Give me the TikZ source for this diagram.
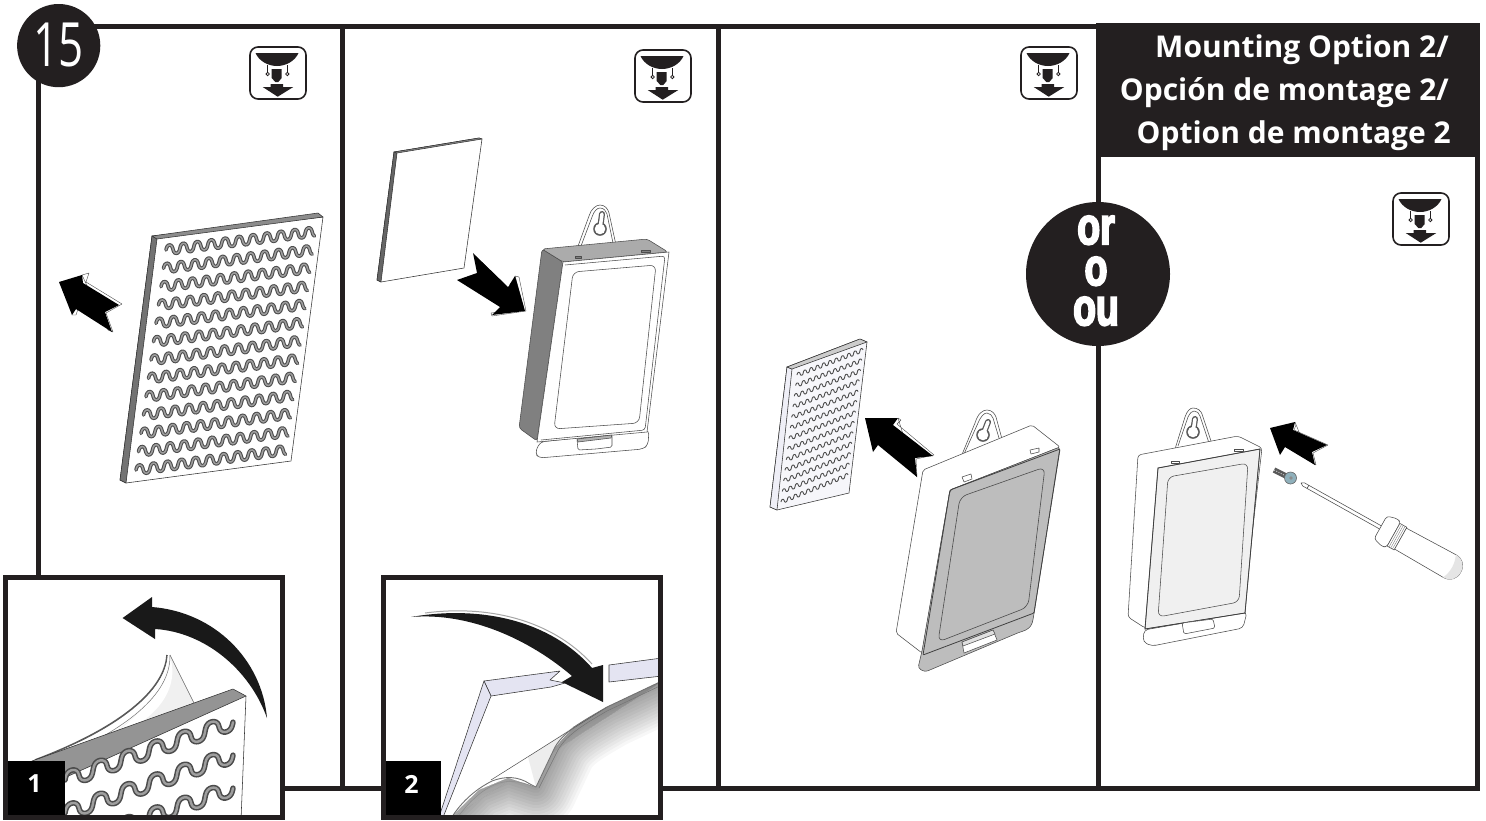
\documentclass[tikz,border=0pt]{standalone}
\usepackage{fontspec}
\setmainfont{Open Sans}
\newfontfamily\headfont{Open Sans}
\newfontfamily\fatfont[FakeBold=4.5]{Liberation Sans Bold}
\definecolor{ink}{HTML}{231F20}
\definecolor{lav}{HTML}{E4E4F2}
\definecolor{shade}{HTML}{5858A8}
\definecolor{screwblue}{HTML}{8FB0BB}
\tikzset{
  frameline/.style={draw=ink,line width=5pt},
  thin line/.style={draw=black!80,line width=0.55pt,line join=round},
  devline/.style={draw=black!70,line width=0.55pt,line join=round},
  arrowblack/.style={fill=black,draw=none},
  arrowwhite/.style={fill=white,draw=black!70,line width=0.4pt,line join=round},
  waveunder/.style={draw=black!70,line width=3.6pt,line cap=round},
  waveover/.style={draw=black!38,line width=1.5pt,line cap=round},
  title/.style={text=white,font=\headfont\bfseries\fontsize{30}{30}\selectfont,inner sep=0pt,anchor=base east},
  numlabel/.style={text=white,font=\headfont\bfseries\fontsize{25}{25}\selectfont,inner sep=0pt},
  ortext/.style={text=white,inner sep=0pt,anchor=base,font=\fatfont\fontsize{52}{52}\selectfont},
}
% rows of waves between two end lines
\newcommand{\wavegrid}[9]{%
  \foreach \r in {0,...,#9}{%
    \pgfmathsetmacro\u{\r/#9}%
    \pgfmathsetmacro\sx{#1+(#5-#1)*\u}\pgfmathsetmacro\sy{#2+(#6-#2)*\u}%
    \pgfmathsetmacro\ex{#3+(#7-#3)*\u}\pgfmathsetmacro\ey{#4+(#8-#4)*\u}%
    \pgfmathsetmacro\cc{\wround*(\ex-\sx)/\wper}%
    \draw[waveunder] plot[variable=\t,domain=0:1,samples=160] ({\sx+(\ex-\sx)*\t-\cc*sin(720*\wper*\t)},{\sy+(\ey-\sy)*\t-\wamp*sin(360*\wper*\t)});
    \draw[waveover] plot[variable=\t,domain=0:1,samples=160] ({\sx+(\ex-\sx)*\t-\cc*sin(720*\wper*\t)},{\sy+(\ey-\sy)*\t-\wamp*sin(360*\wper*\t)});
  }%
}
\def\wround{0.04}
\newcommand{\ceilingicon}[2]{%
  \begin{scope}[shift={(#1,#2)}]
    \draw[draw=ink,fill=white,line width=1.6pt,rounded corners=8pt] (0,0) rectangle (56,52);
    \fill[ink] (5.5,6) -- (48.5,6) .. controls (45,14) and (36,19) .. (27,19) .. controls (18,19) and (9,14) .. (5.5,6) -- cycle;
    \draw[ink,line width=1.1pt] (17.7,18) -- (17.7,25.4) (37.3,18) -- (37.3,25.4);
    \draw[ink,line width=0.8pt,fill=white] (17.7,27) circle (1.7) (37.3,27) circle (1.7);
    \fill[ink] (21.7,22) -- (31.7,22) -- (31.7,31) -- (28.3,35) -- (25.3,35) -- (21.7,31) -- cycle;
    \fill[ink] (20.7,37) -- (33,37) -- (33,40) -- (43.3,40) -- (27.7,49.7) -- (12.7,40) -- (20.7,40) -- cycle;
  \end{scope}%
}
\newcommand{\keyhole}[4]{%
  \draw[black!65,line width=6pt,line cap=round] (#1,#2) -- (#3,#4);
  \fill[black!65] (#1,#2) circle (6.8);
  \draw[white,line width=3.5pt,line cap=round] (#1,#2) -- (#3,#4);
  \fill[white] (#1,#2) circle (5.3);
}
\begin{document}
\begin{tikzpicture}[x=1pt,y=-1pt]
\useasboundingbox (0,0) rectangle (1486,820);
\fill[white] (0,0) rectangle (1486,820);

% ---------- frame ----------
\draw[frameline] (38.5,26) -- (1098,26);
\draw[frameline] (38.5,26) -- (38.5,580);
\draw[frameline] (342,26) -- (342,790.5);
\draw[frameline] (718,26) -- (718,790.5);
\draw[frameline] (1098,26) -- (1098,790.5);
\draw[frameline] (1477.5,26) -- (1477.5,791);
\draw[frameline] (280,788.5) -- (1480,788.5);
\fill[ink] (1096,23) rectangle (1480,157);

% ---------- icons ----------
\ceilingicon{250}{47}
\ceilingicon{635}{50}
\ceilingicon{1021}{47}
\ceilingicon{1393}{193}

% ---------- panel 1 sheet ----------
\draw[thin line,fill=white] (152,236) -- (323,217) -- (291,461) -- (126,483) -- (120,480) -- cycle;
\draw[thin line,fill=black!55] (152,236) -- (157,239) -- (126,483) -- (120,480) -- cycle;
\draw[thin line,fill=black!45] (152,236) -- (318,213) -- (323,217) -- (157,239) -- cycle;
\def\wamp{4.6}\def\wper{10.7}
\wavegrid{166}{250}{315}{231.7}{136}{470}{286}{450}{12}

% ---------- panel 1 arrow ----------
\draw[arrowwhite] (82,275) -- (89,273) -- (86,282) -- (122,304) -- (106,313) -- (113,332) -- (108,330) -- cycle;
\draw[arrowwhite] (72,315) -- (76,315) -- (78,309) -- (72,309) -- cycle;
\fill[arrowblack] (59,282) -- (82,275) -- (83,283) -- (119,305) -- (105,312) -- (112,332) -- (76,309) -- (72,315) -- cycle;

% ---------- panel 2 plate ----------
\draw[thin line,fill=white] (394,152) -- (479,138) -- (482,139) -- (464,268) -- (381,282) -- (377,280) -- cycle;
\draw[thin line,fill=black!60] (394,152) -- (397,153) -- (381,282) -- (377,280) -- cycle;
\draw[thin line,fill=black!45] (394,152) -- (479,138) -- (482,139) -- (397,153) -- cycle;

% ---------- panel 2 arrow ----------
\draw[arrowwhite] (515,276) -- (519,277) -- (526,311) -- (492,316) -- (491,313) -- (524,309) -- cycle;
\fill[arrowblack] (473,253) -- (508,287) -- (515,276) -- (525,311) -- (492,315) -- (500,307) -- (457,280) -- (477,273) -- cycle;
\draw[white,line width=1pt] (473,252) -- (509,286);

% ---------- panel 2 device ----------
\draw[devline,fill=white] (577,249) -- (589,216) .. controls (591,209) and (596,205) .. (600,205) .. controls (605,205) and (608,209) .. (609,213) -- (616,245) -- cycle;
\draw[devline] (581,246) -- (592,217) .. controls (594,211) and (597,208) .. (600,208) .. controls (604,208) and (606,211) .. (607,214) -- (613,243);
\keyhole{600}{229}{602}{214}
\draw[devline,fill=black!50,rounded corners=3pt] (542,249) -- (519,428) -- (537,441) -- (563,262) -- cycle;
\draw[devline,fill=black!33,rounded corners=3pt] (542,249) -- (647,239) -- (668,252) -- (563,262) -- cycle;
\draw[devline,fill=black!50] (575,256) rectangle (581,258);
\draw[devline,fill=black!50] (641,250) rectangle (650,252);
\draw[devline,fill=white,rounded corners=4pt] (540,442) -- (535,453) -- (539,458) -- (643,449) -- (648,445) -- (649,430) -- cycle;
\draw[devline,fill=white] (563,262) -- (669,252) -- (647,432) -- (537,442) -- cycle;
\draw[devline,rounded corners=3pt] (565,265) -- (665,256) -- (645,430) -- (541,440);
\draw[devline,rounded corners=6pt] (573,272) -- (656,265) -- (639,423) -- (554,429) -- cycle;
\draw[devline,fill=white,rounded corners=1.5pt] (577,439) -- (612,435) -- (612,447) -- (596,449) -- (578,450) -- cycle;
\draw[devline,fill=black!30] (577,439) -- (612,435) -- (611,438) -- (578,442) -- cycle;

% ---------- panel 3 sheet ----------
\draw[thin line,fill=lav!35] (787,367) -- (860,339) -- (867,342) -- (849,493) -- (777,510) -- (770,507) -- cycle;
\draw[thin line,fill=lav!60] (787,367) -- (792,369) -- (777,510) -- (770,507) -- cycle;
\draw[thin line,fill=black!20] (787,367) -- (860,339) -- (867,342) -- (792,369) -- cycle;
\begin{scope}[waveunder/.style={draw=black!70,line width=0.9pt},waveover/.style={draw=none}]
\def\wamp{2.0}\def\wper{10.5}
\wavegrid{797}{375}{863}{350}{781}{502}{848}{475}{12}
\end{scope}

% ---------- panel 3 arrow ----------
\draw[arrowwhite] (898,418) -- (901,420) -- (897,424) -- (934,455) -- (916,459) -- (917,477) -- (914,470) -- cycle;
\fill[arrowblack] (865,418) -- (898,418) -- (893,425) -- (933,456) -- (915,458) -- (917,477) -- (878,445) -- (873,452) -- cycle;

% ---------- panel 3 device ----------
\draw[devline,fill=white] (961,457) -- (975,423) .. controls (978,413) and (983,410) .. (987,410) .. controls (992,410) and (995,414) .. (996,417) -- (1002,439) -- cycle;
\draw[devline] (964,454) -- (978,423) .. controls (981,416) and (984,413) .. (987,413) .. controls (990,413) and (992,416) .. (993,418) -- (999,438);
\keyhole{983}{435}{988}{422}
\draw[devline,fill=white,rounded corners=2pt] (923,470) -- (1032,425) -- (1060,447) -- (950,490) -- (922,653) -- (896,633) -- cycle;
\draw[devline,fill=black!26,rounded corners=3pt] (950,490) -- (1060,447) -- (1033,620) .. controls (1031,627) and (1027,630) .. (1020,632) -- (925,672) -- (918,668) -- (922,651) -- cycle;
\draw[line width=0.8pt,black!75,rounded corners=1pt] (950,490) -- (1060,449) -- (1034,613) -- (923,655) -- cycle;
\draw[line width=0.6pt,black!70,rounded corners=7pt] (960,497) -- (1045,467) -- (1028,607) -- (938,642) -- cycle;
\draw[devline,fill=white] (962,477) -- (971,474) -- (972,479) -- (964,482) -- cycle;
\draw[devline,fill=white] (1030,450) -- (1039,448) -- (1039,452) -- (1031,454) -- cycle;
\draw[devline,fill=white] (962,642) -- (993,630) -- (997,640) -- (964,653) -- cycle;
\draw[devline,fill=black!12] (962,642) -- (993,630) -- (995,634) -- (963,646) -- cycle;

% ---------- panel 4 device ----------
\draw[devline,fill=white] (1175,449) -- (1185,417) .. controls (1187,411) and (1190,408) .. (1193,408) .. controls (1198,408) and (1201,411) .. (1202,414) -- (1212,444) -- cycle;
\draw[devline] (1178,446) -- (1188,417) .. controls (1190,413) and (1192,411) .. (1194,411) .. controls (1197,411) and (1199,413) .. (1200,416) -- (1209,443);
\keyhole{1193}{432}{1195}{419}
\draw[devline,fill=white,rounded corners=3pt] (1138,455) -- (1238,436) -- (1262,448) -- (1243,613) -- (1145,628) -- (1128,617) -- cycle;
\draw[devline,fill=white,rounded corners=4pt] (1144,630) -- (1143,642) -- (1152,646) -- (1243,628) -- (1247,612) -- cycle;
\draw[devline,fill=black!6] (1158,468) -- (1260,449) -- (1245,613) -- (1145,629) -- cycle;
\draw[line width=0.8pt,black!75] (1158,468) -- (1260,449) -- (1245,613) -- (1145,629) -- cycle;
\draw[devline,rounded corners=6pt] (1168,477) -- (1248,463) -- (1239,602) -- (1158,617) -- cycle;
\draw[devline,fill=white] (1171,461) rectangle (1179,463);
\draw[devline,fill=white] (1234,449) rectangle (1243,451);
\draw[devline,fill=white,rounded corners=1.5pt] (1182,623) -- (1213,619) -- (1215,628) -- (1184,634) -- cycle;

% ---------- panel 4 arrow ----------
\draw[arrowwhite] (1295,422) -- (1296,425) -- (1294,430) -- (1328,445) -- (1313,453) -- (1316,465) -- (1311,462) -- cycle;
\fill[arrowblack] (1270,428) -- (1295,422) -- (1293,430) -- (1327,445) -- (1312,452) -- (1315,465) -- (1285,447) -- (1280,455) -- cycle;

% ---------- screw ----------
\draw[line width=5.5pt,black!65] (1274,470) -- (1288,477);
\draw[line width=1pt,black!25,dash pattern=on 1pt off 1.5pt] (1274,470) -- (1288,477);
\draw[draw=black!60,fill=screwblue,line width=0.6pt] (1290.5,478) circle (6);
\fill[black!45] (1291,478) circle (1.8);

% ---------- screwdriver ----------
\begin{scope}[shift={(1301,483)},x={(0.873pt,-0.488pt)},y={(0.488pt,0.873pt)}]
  \draw[devline,fill=white] (0,0) -- (3,-1.8) -- (8,-1.8) -- (8,1.8) -- (3,1.8) -- cycle;
  \draw[devline,fill=white] (8,-1.8) -- (92,-1.8) -- (92,1.8) -- (8,1.8) -- cycle;
  \draw[devline,fill=white,rounded corners=3pt] (91,-13) -- (102,-16) -- (106,-14) -- (106,14) -- (102,16) -- (91,13) -- cycle;
  \draw[devline,fill=white] (106,-13) -- (114,-13) -- (114,13) -- (106,13) -- cycle;
  \draw[line width=0.3pt,black!60] (108,-13) -- (108,13) (110,-13) -- (110,13) (112,-13) -- (112,13);
  \draw[devline,fill=white] (114,-12) -- (170,-13) .. controls (178,-13) and (183,-8) .. (183,0) .. controls (183,8) and (178,13) .. (170,13) -- (114,12) -- cycle;
  \fill[black!10] (170,-13) .. controls (178,-13) and (183,-8) .. (183,0) .. controls (183,8) and (178,13) .. (170,13) .. controls (174,5) and (174,-5) .. (170,-13) -- cycle;
\end{scope}

% ---------- step circle ----------
\fill[ink] (58.7,45.6) circle (41.6);
\node[text=white,inner sep=0pt,font=\headfont\fontsize{61}{61}\selectfont] (stepnum) at (58.5,45.5) {\scalebox{.72}[1]{15}};

% ---------- header ----------
\node[title] (hone) at (1449,57) {Mounting Option 2/};
\node[title] (htwo) at (1449,100) {Opción de montage 2/};
\node[title] (hthree) at (1451,143) {Option de montage 2};

% ---------- or circle ----------
\fill[ink] (1098,274) circle (72);
\node[ortext] (ora) at (1096,244) {\scalebox{.72}[1]{or}};
\node[ortext] (orb) at (1096,285) {\scalebox{.72}[1]{o}};
\node[ortext] (orc) at (1096,325) {\scalebox{.72}[1]{ou}};

% ---------- inset 1 ----------
\fill[white] (5.5,577.5) rectangle (282,817.5);
\begin{scope}
  \clip (5.5,577.5) rectangle (282,817.5);
  \fill[white] (32,761) -- (233,689) -- (246,696) -- (241,820) -- (5,820) -- cycle;
  % peeling liner
  \fill[black!6] (170,655) -- (194,703) -- (60,762) .. controls (120,735) and (165,700) .. (170,655) -- cycle;
  \fill[white] (170,655) .. controls (168,690) and (125,735) .. (70,760) -- (120,735) .. controls (160,715) and (175,690) .. (172,665) -- cycle;
  \draw[black!60,line width=0.5pt] (170,655) -- (194,703);
  \draw[black!65,line width=1.6pt,rounded corners=1pt] (167,655) .. controls (165,690) and (120,728) .. (35,760);
  \draw[white,line width=0.5pt] (168,656) .. controls (166,690) and (122,729) .. (45,757);
  \draw[black!55,line width=0.5pt] (170,655) .. controls (171,695) and (125,730) .. (55,760);
  \draw[thin line,fill=black!42] (32,761) -- (233,689) -- (246,696) -- (64,778) -- (20,790) -- cycle;
  \draw[thin line] (246,696) -- (241,820);
  \begin{scope}[waveunder/.style={draw=black!70,line width=5.5pt,line cap=round},waveover/.style={draw=black!38,line width=2.4pt,line cap=round}]
    \def\wamp{7.5}\def\wper{6}\def\wround{0.05}
    \wavegrid{65}{780}{233}{722}{65}{846}{233}{788}{2}
  \end{scope}
  % curved arrow
  \fill[black!90] (122.6,618) -- (152,597) -- (152,607) .. controls (215,612) and (262,660) .. (267,718) .. controls (250,670) and (205,632) .. (155,629) -- (155,639) -- cycle;
  \fill[black] (6,761) rectangle (65,816);
\end{scope}
\node[numlabel] (numone) at (34.5,784) {1};
\draw[frameline] (5.5,577.5) rectangle (282,817.5);

% ---------- inset 2 ----------
\fill[white] (383,577.5) rectangle (660,817.5);
\begin{scope}
  \clip (383,577.5) rectangle (660,817.5);
  % strips
  \draw[thin line,fill=lav] (484,681) -- (560,671) -- (550,680) -- (565,683) -- (551,687) -- (491,696) -- cycle;
  \draw[thin line,fill=lav] (609,665) -- (662,658) -- (662,676) -- (609,682) -- cycle;
  \draw[thin line,fill=lav] (484,681) -- (491,696) -- (442,820) -- (438,820) -- cycle;
  % curled sheet with shadow
  \begin{scope}
    \clip (664,680) -- (607,707) -- (573,727) -- (555,747) -- (536,787) -- (508,778) -- (479,790) -- (448,820) -- (664,820) -- cycle;
    \foreach \w in {6,12,...,84}{
      \draw[shade,opacity=.03,line width=\w pt,line join=round] (664,680) -- (607,707) .. controls (585,720) and (565,730) .. (555,747) -- (536,787) -- (508,778) -- (479,790) -- (448,820);
    }
  \end{scope}
  \fill[white] (573,727) -- (491,780) -- (508,776) -- (536,787) -- (555,747) -- cycle;
  \fill[black!7] (573,727) -- (528,757) -- (536,787) -- (555,747) -- cycle;
  \draw[black!70,line width=0.5pt] (607,707) -- (491,780);
  \draw[black!55,line width=0.9pt,line join=round] (664,680) -- (607,707) .. controls (585,720) and (565,730) .. (555,747) -- (536,787) -- (530,784) .. controls (518,776) and (505,776) .. (492,781) .. controls (478,788) and (462,800) .. (450,820);
  \draw[black!55,line width=0.5pt] (664,684) -- (607,711) .. controls (585,724) and (567,734) .. (558,750) -- (539,788);
  \draw[black!45,line width=0.5pt] (534,787) .. controls (518,780) and (505,780) .. (494,785) .. controls (480,791) and (466,805) .. (456,820);
  % curved arrow
  \fill[black!90] (411,617) .. controls (480,605) and (550,620) .. (592,668) -- (603,665) -- (603,702) -- (562,682) -- (572,676) .. controls (530,640) and (470,612) .. (411,617) -- cycle;
  \draw[black!35,line width=1pt] (425,613) .. controls (485,605) and (550,618) .. (592,664);
  \draw[white,line width=1.2pt] (604.5,662) -- (604.5,705);
  \fill[black] (385,761) rectangle (441,816);
\end{scope}
\node[numlabel] (numtwo) at (411.5,784) {2};
\draw[frameline] (383,577.5) rectangle (660,817.5);
\end{tikzpicture}
\end{document}
